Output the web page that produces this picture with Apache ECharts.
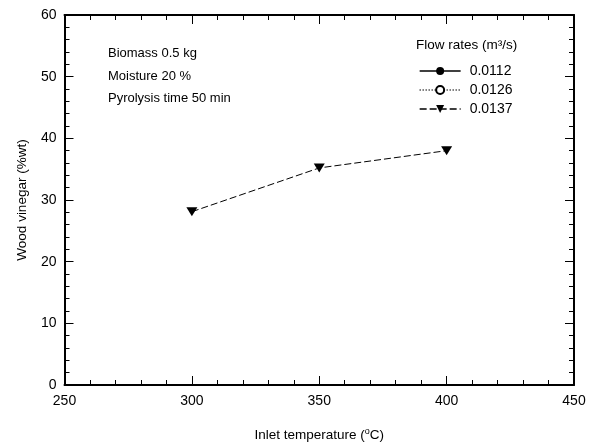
<!DOCTYPE html>
<html>
<head>
<meta charset="utf-8">
<script src="https://cdn.jsdelivr.net/npm/echarts@6/dist/echarts.min.js"></script>
<style>html,body{margin:0;padding:0;background:#fff;}#c{width:595px;height:443px;}</style>
</head>
<body>
<div id="c"></div>
<script>
const temperatures = [300, 350, 400];
const seriesNames = ['0.0112', '0.0126', '0.0137'];
const flow0112 = [];
const flow0126 = [];
const flow0137 = [28.1, 35.2, 38.0];
const xTicks = [250, 300, 350, 400, 450];
const yTicks = [0, 10, 20, 30, 40, 50, 60];
const notes = ['Biomass 0.5 kg', 'Moisture 20 %', 'Pyrolysis time 50 min'];

const FONT = '"Liberation Sans", Arial, sans-serif';
const chart = echarts.init(document.getElementById('c'), null, {renderer: 'canvas'});

function pairs(vals) { return vals.map((v, i) => [temperatures[i], v]); }

const axisCommon = {
  axisLine: {show: true, onZero: false, lineStyle: {color: '#000', width: 2}},
  axisTick: {show: true, inside: true, length: 9, lineStyle: {color: '#000', width: 1}},
  minorTick: {show: true, splitNumber: 5, length: 5, lineStyle: {color: '#000', width: 1}},
  splitLine: {show: false},
  minorSplitLine: {show: false}
};

const option = {
  backgroundColor: '#fff',
  animation: false,
  textStyle: {fontFamily: FONT},
  grid: {left: 64.5, right: 21, top: 15, bottom: 58, containLabel: false, outerBoundsMode: 'none'},
  xAxis: [
    Object.assign({
      type: 'value', min: xTicks[0], max: xTicks[xTicks.length - 1], interval: 50,
      name: 'Inlet temperature ({sup|o}C)', nameLocation: 'middle', nameGap: 42,
      nameTextStyle: {fontFamily: FONT, fontSize: 13.5, color: '#000',
        rich: {sup: {fontFamily: FONT, fontSize: 9, color: '#000', padding: [0, 0, 8, 0]}}},
      axisLabel: {color: '#000', fontSize: 14, fontFamily: FONT, margin: 9}
    }, axisCommon),
    Object.assign({
      type: 'value', position: 'top', min: xTicks[0], max: xTicks[xTicks.length - 1], interval: 50,
      axisLabel: {show: false}
    }, axisCommon)
  ],
  yAxis: [
    Object.assign({
      type: 'value', min: yTicks[0], max: yTicks[yTicks.length - 1], interval: 10,
      name: 'Wood vinegar (%wt)', nameLocation: 'middle', nameGap: 35,
      nameTextStyle: {fontFamily: FONT, fontSize: 13.5, color: '#000'},
      axisLabel: {color: '#000', fontSize: 14, fontFamily: FONT, margin: 8}
    }, axisCommon),
    Object.assign({
      type: 'value', position: 'right', min: yTicks[0], max: yTicks[yTicks.length - 1], interval: 10,
      axisLabel: {show: false}
    }, axisCommon)
  ],
  legend: {
    orient: 'vertical', left: 419, top: 64, padding: 0, itemWidth: 41, itemHeight: 10, itemGap: 5,
    lineStyle: {width: 1.3},
    itemStyle: {borderWidth: 1},
    textStyle: {fontFamily: FONT, fontSize: 14, color: '#000', padding: [0, 0, 0, 4]},
    data: seriesNames
  },
  graphic: [
    {type: 'text', left: 416, top: 38, style: {text: 'Flow rates (m³/s)', font: '13.5px ' + FONT, fill: '#000'}},
    {type: 'text', left: 108, top: 47, style: {text: notes[0], font: '13px ' + FONT, fill: '#000'}},
    {type: 'text', left: 108, top: 69.5, style: {text: notes[1], font: '13px ' + FONT, fill: '#000'}},
    {type: 'text', left: 108, top: 92, style: {text: notes[2], font: '13px ' + FONT, fill: '#000'}}
  ],
  series: [
    {name: seriesNames[0], type: 'line', data: pairs(flow0112), symbol: 'circle', symbolSize: 9,
      itemStyle: {color: '#000'}, lineStyle: {color: '#000', width: 1, type: 'solid'}},
    {name: seriesNames[1], type: 'line', data: pairs(flow0126), symbol: 'emptyCircle', symbolSize: 9,
      itemStyle: {color: '#000', borderColor: '#000', borderWidth: 1}, lineStyle: {color: '#000', width: 1, type: [1, 2]}},
    {name: seriesNames[2], type: 'line', data: pairs(flow0137), symbol: 'triangle', symbolRotate: 180, symbolSize: [11, 9],
      itemStyle: {color: '#000'}, lineStyle: {color: '#000', width: 1, type: [7, 3]}}
  ]
};
chart.setOption(option);
</script>
</body>
</html>
